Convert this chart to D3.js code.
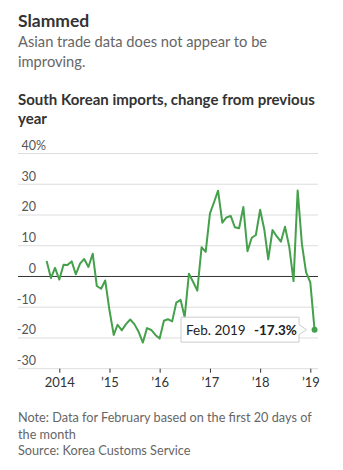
<!DOCTYPE html>
<html>
<head>
<meta charset="utf-8">
<script src="https://cdn.jsdelivr.net/npm/d3@7"></script>
<style>
  body { margin: 0; background: #fff; }
  svg { display: block; font-family: Lato, "Noto Sans", sans-serif; }
</style>
</head>
<body>
<svg id="chart" width="343" height="470"></svg>
<script>
// monthly values, Oct 2013 .. Feb 2019
const startMonth = [2013, 9];
const values = [
  5.0, -0.5, 2.8,
  -1.0, 3.8, 3.7, 4.9, 0.7, 4.2, 5.7, 3.1, 7.4, -3.1, -4.0, -1.3,
  -11.0, -19.0, -15.7, -17.5, -15.5, -14.0, -15.5, -18.0, -21.5, -16.8, -17.4, -19.0,
  -20.2, -14.4, -13.9, -14.6, -8.5, -7.6, -13.2, 0.9, -1.8, -4.6, 9.5, 8.0,
  20.5, 24.3, 27.9, 17.5, 19.2, 19.7, 16.0, 15.7, 22.6, 8.2, 12.6, 13.5,
  21.7, 15.1, 5.6, 15.1, 13.1, 11.3, 16.2, 9.6, -1.5, 28.0, 10.5, 1.4,
  -1.9, -17.3
];
const yTicks = [-30, -20, -10, 0, 10, 20, 30, 40];
const xTickYears = [2014, 2015, 2016, 2017, 2018, 2019];
const xTickLabels = ["2014", "\u201915", "\u201916", "\u201917", "\u201918", "\u201919"];
const tipLabel = "Feb. 2019";
const tipValue = "-17.3%";

const data = values.map((v, i) => ({
  date: new Date(startMonth[0], startMonth[1] + i, 1),
  value: v
}));

const svg = d3.select("#chart");
const green = "#44a04a";

// header texts
svg.append("text").attr("x", 18).attr("y", 27)
  .attr("font-size", 17.5).attr("font-weight", "bold").attr("fill", "#333")
  .text("Slammed");
svg.append("g").attr("fill", "#666").attr("font-size", 14.7)
  .selectAll("text")
  .data(["Asian trade data does not appear to be", "improving."])
  .join("text")
    .attr("x", 18).attr("y", (d, i) => 47 + i * 19.5)
    .text(d => d);
svg.append("g").attr("fill", "#333").attr("font-size", 15).attr("font-weight", "bold")
  .selectAll("text")
  .data(["South Korean imports, change from previous", "year"])
  .join("text")
    .attr("x", 18).attr("y", (d, i) => 105 + i * 18.5)
    .text(d => d);

const x = d3.scaleTime()
  .domain([new Date(2014, 0, 1), new Date(2019, 0, 1)])
  .range([59.3, 310.3]);
const y = d3.scaleLinear().domain([-30, 40]).range([368.7, 153.5]);
const left = 18, right = 318;

// grid
const grid = svg.append("g");
grid.selectAll("line")
  .data(yTicks.filter(d => d !== 0))
  .join("line")
    .attr("x1", left).attr("x2", right)
    .attr("y1", d => y(d)).attr("y2", d => y(d))
    .attr("stroke", "#ddd").attr("stroke-width", 1);

const yLab = svg.append("g").attr("font-size", 12.5).attr("fill", "#555");
yLab.selectAll("text.num")
  .data(yTicks)
  .join("text")
    .attr("class", "num")
    .attr("x", 36).attr("y", d => y(d) - 3.5)
    .attr("text-anchor", "end")
    .text(d => d);
yLab.append("text")
  .attr("x", 36).attr("y", y(40) - 3.5)
  .text("%");

// x axis
const xAxis = svg.append("g")
  .attr("transform", "translate(0," + y(-30) + ")")
  .call(d3.axisBottom(x)
    .tickValues(xTickYears.map(yr => new Date(yr, 0, 1)))
    .tickSize(4)
    .tickFormat((d, i) => xTickLabels[i]));
xAxis.select(".domain").remove();
xAxis.selectAll(".tick line").attr("stroke", "#333");
xAxis.selectAll(".tick text")
  .attr("font-family", "Lato, 'Noto Sans', sans-serif")
  .attr("font-size", 13).attr("fill", "#333").attr("dy", "0.9em");

// zero line
svg.append("line")
  .attr("x1", left).attr("x2", right)
  .attr("y1", y(0)).attr("y2", y(0))
  .attr("stroke", "#333").attr("stroke-width", 1);

const line = d3.line()
  .x(d => x(d.date))
  .y(d => y(d.value));

svg.append("path")
  .datum(data)
  .attr("fill", "none")
  .attr("stroke", green)
  .attr("stroke-width", 2)
  .attr("stroke-linejoin", "round")
  .attr("d", line);

const last = data[data.length - 1];
const lx = x(last.date), ly = y(last.value);
svg.append("circle")
  .attr("cx", lx).attr("cy", ly).attr("r", 3)
  .attr("fill", green);

// tooltip
const tip = svg.append("g");
const bx0 = 181, bx1 = 299, bh = 25, tipX = lx - 8;
tip.append("path")
  .attr("d", `M${bx0},${ly - bh / 2}H${bx1}V${ly - 5}L${tipX},${ly}L${bx1},${ly + 5}V${ly + bh / 2}H${bx0}Z`)
  .attr("fill", "#fff").attr("stroke", "#ccc").attr("stroke-width", 1);
const tt = tip.append("text")
  .attr("x", 186).attr("y", ly + 5.5)
  .attr("font-size", 13.5).attr("fill", "#222");
tt.append("tspan").text(tipLabel);
tt.append("tspan").attr("x", 254).attr("font-weight", "bold").text(tipValue);

// notes
svg.append("g").attr("fill", "#666").attr("font-size", 12.7)
  .selectAll("text")
  .data(["Note: Data for February based on the first 20 days of", "the month", "Source: Korea Customs Service"])
  .join("text")
    .attr("x", 18).attr("y", (d, i) => 422 + i * 16.5)
    .text(d => d);
</script>
</body>
</html>
